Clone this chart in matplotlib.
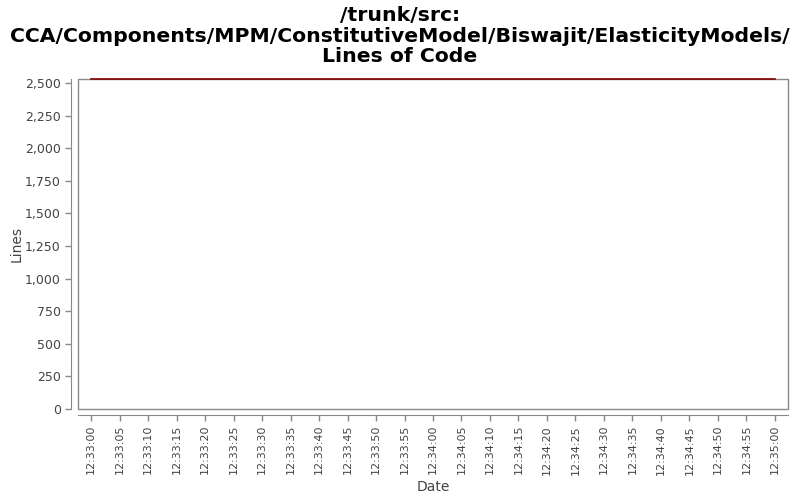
import matplotlib
matplotlib.use("Agg")
import matplotlib.pyplot as plt
import matplotlib.dates as mdates
import pandas as pd

# datos
fechas = pd.to_datetime(["2000-01-01 12:33:00", "2000-01-01 12:35:00"])
lineas = [2528, 2528]

inicio = pd.Timestamp("2000-01-01 12:33:00")
fin = pd.Timestamp("2000-01-01 12:35:00")
margen = pd.Timedelta(seconds=2.3)

gris = "#888888"
texto = "#444444"

fig = plt.figure(figsize=(8, 5), dpi=100)
ax = fig.add_axes([0.0975, 0.182, 0.8875, 0.66])

ax.plot(fechas, lineas, color="#800000", linewidth=1.2, zorder=3, clip_on=False)

ax.set_xlim(inicio - margen, fin + margen)
ax.set_ylim(0, 2530)
ax.set_yticks(range(0, 2501, 250))
ax.yaxis.set_major_formatter(matplotlib.ticker.FuncFormatter(lambda v, p: f"{int(v):,}"))

ticks = pd.date_range(inicio, fin, freq="5s")
ax.set_xticks(ticks)
ax.xaxis.set_major_formatter(mdates.DateFormatter("%H:%M:%S"))
ax.tick_params(axis="x", labelrotation=90, labelsize=8)

# marco del area de dibujo
for s in ["left", "right", "top", "bottom"]:
    ax.spines[s].set_visible(False)
ax.add_patch(plt.Rectangle((0, 0), 1, 1, transform=ax.transAxes, fill=False,
                           edgecolor=gris, linewidth=1, zorder=2, clip_on=False))

# ejes desplazados
ax.spines["left"].set_visible(True)
ax.spines["bottom"].set_visible(True)
ax.spines["left"].set_position(("outward", 5))
ax.spines["bottom"].set_position(("outward", 4))
ax.spines["left"].set_color(gris)
ax.spines["bottom"].set_color(gris)

ax.tick_params(axis="both", colors=gris, labelcolor=texto, length=4, width=1)
ax.tick_params(axis="y", labelsize=9)

ax.set_xlabel("Date", fontsize=10, color=texto, labelpad=4)
ax.set_ylabel("Lines", fontsize=10, color=texto, labelpad=1)

fig.suptitle("/trunk/src:\nCCA/Components/MPM/ConstitutiveModel/Biswajit/ElasticityModels/\nLines of Code",
             fontsize=14.7, fontweight="bold", y=0.988, linespacing=1.1)

fig.savefig("out.png", dpi=100)
